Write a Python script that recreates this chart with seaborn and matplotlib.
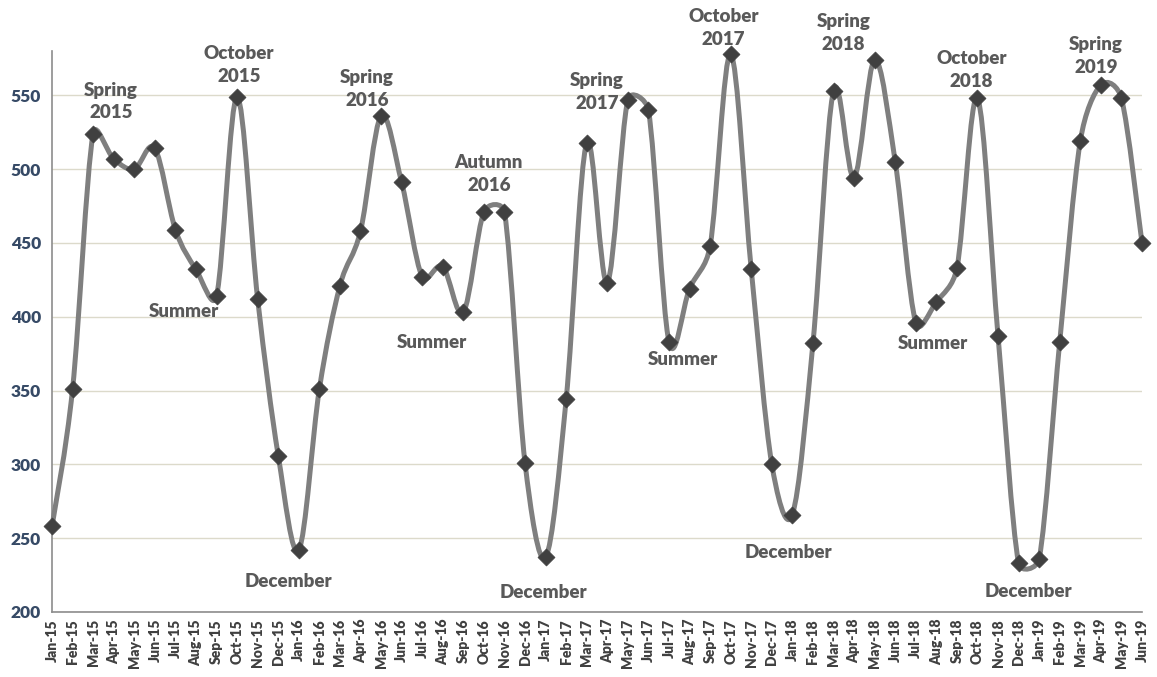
import numpy as np
import pandas as pd
import matplotlib
matplotlib.use("Agg")
import matplotlib.pyplot as plt
from matplotlib.path import Path
from matplotlib.patches import PathPatch
import seaborn as sns

# Monthly values, Jan-15 .. Jun-19
months = [
    "Jan-15", "Feb-15", "Mar-15", "Apr-15", "May-15", "Jun-15", "Jul-15", "Aug-15", "Sep-15",
    "Oct-15", "Nov-15", "Dec-15", "Jan-16", "Feb-16", "Mar-16", "Apr-16", "May-16", "Jun-16",
    "Jul-16", "Aug-16", "Sep-16", "Oct-16", "Nov-16", "Dec-16", "Jan-17", "Feb-17", "Mar-17",
    "Apr-17", "May-17", "Jun-17", "Jul-17", "Aug-17", "Sep-17", "Oct-17", "Nov-17", "Dec-17",
    "Jan-18", "Feb-18", "Mar-18", "Apr-18", "May-18", "Jun-18", "Jul-18", "Aug-18", "Sep-18",
    "Oct-18", "Nov-18", "Dec-18", "Jan-19", "Feb-19", "Mar-19", "Apr-19", "May-19", "Jun-19",
]
values = [
    258, 351, 524, 507, 500, 514, 459, 432, 414,
    549, 412, 306, 242, 351, 421, 458, 536, 491,
    427, 434, 403, 471, 471, 301, 237, 344, 518,
    423, 547, 540, 383, 419, 448, 578, 432, 300,
    266, 382, 553, 494, 574, 505, 396, 410, 433,
    548, 387, 233, 236, 383, 519, 557, 548, 450,
]

# Season labels: (text, month index, offset in pixels from that point)
notes = [
    ("Spring\n2015", 2, (18, 32)),
    ("October\n2015", 9, (2, 32)),
    ("Summer", 8, (-33, -15)),
    ("December", 12, (-10, -32)),
    ("Spring\n2016", 16, (-14, 27)),
    ("Summer", 20, (-31, -30)),
    ("Autumn\n2016", 21, (5, 38)),
    ("December", 24, (-2, -35)),
    ("Spring\n2017", 28, (-31, 8)),
    ("Summer", 30, (14, -18)),
    ("October\n2017", 33, (-7, 26)),
    ("December", 36, (-4, -38)),
    ("Spring\n2018", 40, (-31, 27)),
    ("Summer", 42, (17, -21)),
    ("October\n2018", 45, (-6, 28)),
    ("December", 47, (10, -28)),
    ("Spring\n2019", 51, (-5, 29)),
]

y_ticks = [200, 250, 300, 350, 400, 450, 500, 550]

sns.set_theme(style="white")
plt.rcParams["font.family"] = ["Lato", "DejaVu Sans"]

df = pd.DataFrame({"pos": np.arange(len(months)), "month": months, "value": values})

fig = plt.figure(figsize=(11.57, 6.77), dpi=100)
ax = fig.add_axes([52 / 1157, 1 - 612 / 677, (1142 - 52) / 1157, (612 - 51) / 677])
ax.set_xlim(0, len(months) - 1)
ax.set_ylim(200, 580)

# Smoothed line: cubic Bezier segments built in screen space, handle length
# limited to half of the segment (spreadsheet-style smoothing)
pts_data = df[["pos", "value"]].to_numpy(dtype=float)
fig.canvas.draw()
pts = ax.transData.transform(pts_data)
n = len(pts)
verts = [pts[0]]
codes = [Path.MOVETO]
for i in range(n - 1):
    p0 = pts[i - 1] if i > 0 else pts[i]
    p1 = pts[i]
    p2 = pts[i + 1]
    p3 = pts[i + 2] if i + 2 < n else pts[i + 1]
    d12 = np.hypot(*(p2 - p1))
    d02 = np.hypot(*(p2 - p0))
    d13 = np.hypot(*(p3 - p1))
    f0 = 1 / 6 if d02 == 0 else min(1 / 6, d12 / (2 * d02))
    f1 = 1 / 6 if d13 == 0 else min(1 / 6, d12 / (2 * d13))
    c1 = p1 + (p2 - p0) * f0
    c2 = p2 - (p3 - p1) * f1
    verts += [c1, c2, p2]
    codes += [Path.CURVE4] * 3
verts_data = ax.transData.inverted().transform(np.array(verts))
ax.add_patch(PathPatch(Path(verts_data, codes), facecolor="none", edgecolor="#7f7f7f",
                       lw=3.6, capstyle="round", joinstyle="round", zorder=3, clip_on=False))

sns.scatterplot(data=df, x="pos", y="value", marker="D", s=75, color="#404040",
                edgecolor="#404040", linewidth=0.5, zorder=4, clip_on=False, ax=ax, legend=False)

for text, idx, (dx, dy) in notes:
    ax.annotate(text, xy=(idx, values[idx]), xytext=(dx, dy), textcoords="offset pixels",
                ha="center", va="center", fontsize=13.5, fontweight="heavy", color="#595959",
                linespacing=1.4, annotation_clip=False, zorder=5)

ax.set_xticks(df["pos"])
ax.set_xticklabels(months, rotation=90, fontsize=10, fontweight="heavy", color="#404040")
ax.set_yticks(y_ticks)
ax.set_yticklabels([str(v) for v in y_ticks], fontsize=12.5, fontweight="heavy", color="#364a66")
ax.tick_params(axis="both", length=0, pad=8)
ax.tick_params(axis="x", pad=5)
ax.set_xlabel("")
ax.set_ylabel("")

ax.grid(axis="y", color="#dcdacb", lw=1)
ax.grid(axis="x", visible=False)
for side in ["top", "right"]:
    ax.spines[side].set_visible(False)
for side in ["left", "bottom"]:
    ax.spines[side].set_color("#8c8c8c")
    ax.spines[side].set_linewidth(1.2)

fig.savefig("out.png", dpi=100, facecolor="white")
